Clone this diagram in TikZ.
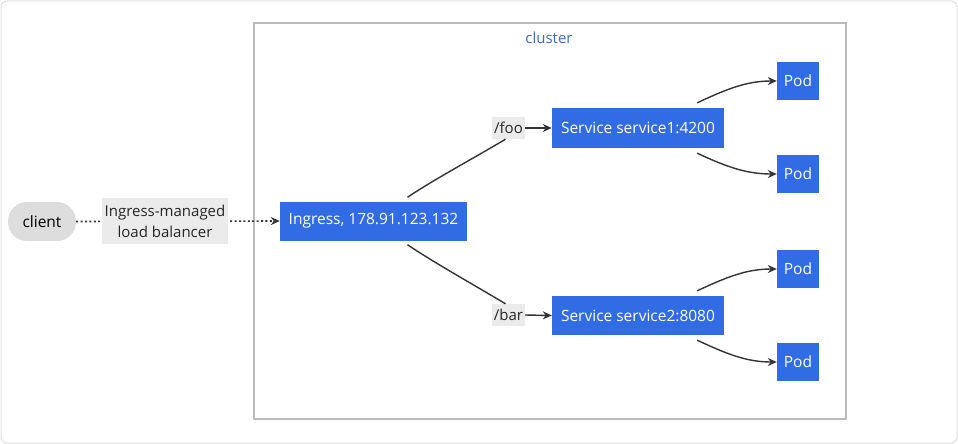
\documentclass[tikz,border=0pt]{standalone}
\usepackage{fontspec}
\setmainfont{Open Sans}
\usetikzlibrary{arrows.meta,calc}
\definecolor{kblue}{HTML}{326CE5}
\definecolor{edgec}{HTML}{333333}
\definecolor{lblbg}{HTML}{EBEBEB}
\definecolor{clientbg}{HTML}{DDDDDD}
\definecolor{clustc}{HTML}{BBBBBB}
\definecolor{clustt}{HTML}{3A6BC4}
\tikzset{
  x=1pt,y=-1pt,
  kbox/.style={draw=none,fill=kblue,text=white,font=\fontsize{15.5}{17}\selectfont,inner sep=0pt,minimum height=39pt},
  podbox/.style={kbox,minimum width=42pt,minimum height=38pt},
  lbl/.style={fill=lblbg,text=black!85,font=\fontsize{15}{17}\selectfont,inner sep=2pt,align=center},
  edge/.style={draw=edgec,line width=1.4pt,-{Stealth[length=9pt,width=8pt]}},
  plain/.style={draw=edgec,line width=1.4pt}
}
\begin{document}
\begin{tikzpicture}
\useasboundingbox (0,0) rectangle (958,444);
\draw[draw=black!12,line width=1pt,rounded corners=6pt] (1,1) rectangle (957,443);
% cluster
\draw[draw=clustc,line width=1.6pt] (254,23) rectangle (846,419);
\node[text=clustt,font=\fontsize{15}{17}\selectfont] (clab) at (549,38) {cluster};
% nodes
\node[fill=clientbg,rounded corners=19pt,minimum width=68pt,minimum height=39pt,inner sep=0pt,font=\fontsize{15.5}{17}\selectfont] (client) at (42,221.5) {client};
\node[kbox,minimum width=187pt] (ing) at (373.5,221) {Ingress, 178.91.123.132};
\node[kbox,minimum width=172pt,minimum height=40pt] (s1) at (638,128) {Service service1:4200};
\node[kbox,minimum width=172pt] (s2) at (638,315.5) {Service service2:8080};
\node[podbox] (p1) at (798,81) {Pod};
\node[podbox] (p2) at (798,174) {Pod};
\node[podbox] (p3) at (798,269) {Pod};
\node[podbox] (p4) at (798,362) {Pod};
% client to ingress
\draw[draw=edgec,line width=1.6pt,dash pattern=on 2pt off 2.4pt,-{Stealth[length=9pt,width=8pt]}] (client.east) -- (ing.west);
\node[lbl,minimum width=126pt,minimum height=46pt,inner sep=0pt] (lb) at (165,221) {Ingress-managed\\[4pt]load balancer};
% labels
\node[lbl,minimum width=33pt,minimum height=22pt,inner sep=0pt] (foo) at (508.5,128) {/foo};
\node[lbl,minimum width=33pt,minimum height=22pt,inner sep=0pt] (bar) at (508.5,315) {/bar};
% ingress to services
\draw[plain] ([xshift=34pt,yshift=4pt]ing.north) .. controls +(25,-17) and +(-30,18) .. ([xshift=-3pt]foo.south);
\draw[edge] (foo.east) -- (s1.west);
\draw[plain] ([xshift=34pt,yshift=-4pt]ing.south) .. controls +(25,17) and +(-30,-18) .. ([xshift=-3pt]bar.north);
\draw[edge] (bar.east) -- (s2.west);
% services to pods
\draw[edge] ([xshift=-27pt,yshift=5pt]s1.north east) .. controls +(30,-14) and +(-30,0) .. (p1.west);
\draw[edge] ([xshift=-27pt,yshift=-5pt]s1.south east) .. controls +(30,14) and +(-30,0) .. (p2.west);
\draw[edge] ([xshift=-27pt,yshift=5pt]s2.north east) .. controls +(30,-14) and +(-30,0) .. (p3.west);
\draw[edge] ([xshift=-27pt,yshift=-5pt]s2.south east) .. controls +(30,14) and +(-30,0) .. (p4.west);
\end{tikzpicture}
\end{document}
